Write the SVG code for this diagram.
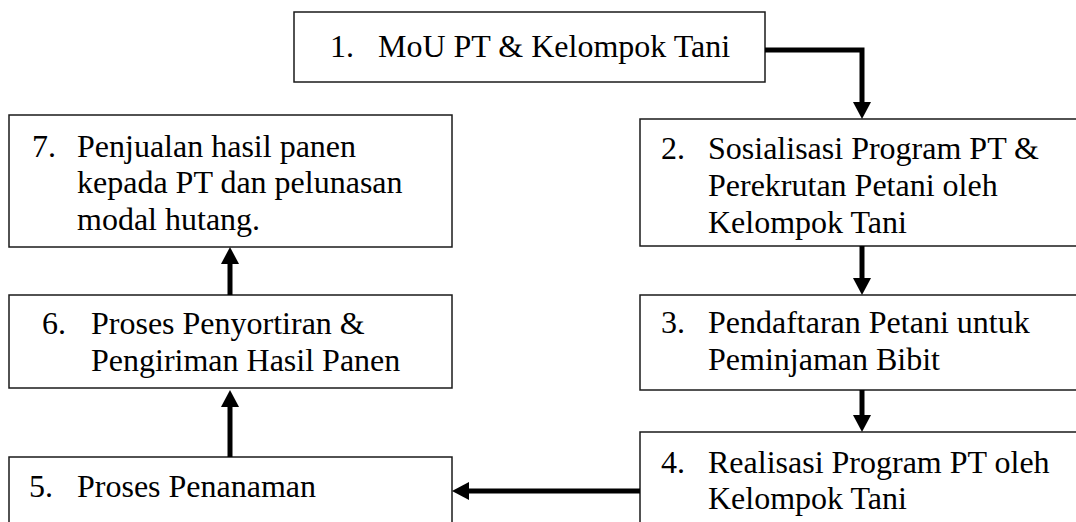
<svg xmlns="http://www.w3.org/2000/svg" width="1076" height="522" viewBox="0 0 1076 522">
  <style>
    .box { fill: #ffffff; stroke: #1a1a1a; stroke-width: 1.5; }
    .lbl { font-family: "Liberation Serif", "Times New Roman", serif; font-size: 32px; fill: #000000; }
    .conn { fill: none; stroke: #000000; stroke-width: 5; stroke-linejoin: miter; }
  </style>
  <defs>
    <marker id="head" markerUnits="userSpaceOnUse" markerWidth="18" markerHeight="18" refX="0" refY="9" orient="auto">
      <path d="M0,0 L17,9 L0,18 Z" fill="#000000"/>
    </marker>
  </defs>

  <rect width="1076" height="522" fill="#ffffff"/>

  <!-- Step 1 -->
  <g id="node1">
    <rect class="box" x="294" y="12" width="471" height="70"/>
    <text class="lbl" x="330" y="57">1.</text>
    <text class="lbl" x="378" y="57">MoU PT &amp; Kelompok Tani</text>
  </g>

  <!-- Step 2 -->
  <g id="node2">
    <rect class="box" x="640" y="119" width="450" height="127"/>
    <text class="lbl" x="661" y="159">2.</text>
    <text class="lbl" x="708" y="159">Sosialisasi Program PT &amp;</text>
    <text class="lbl" x="708" y="196">Perekrutan Petani oleh</text>
    <text class="lbl" x="708" y="233">Kelompok Tani</text>
  </g>

  <!-- Step 3 -->
  <g id="node3">
    <rect class="box" x="640" y="295" width="450" height="95"/>
    <text class="lbl" x="661" y="333">3.</text>
    <text class="lbl" x="708" y="333">Pendaftaran Petani untuk</text>
    <text class="lbl" x="708" y="370">Peminjaman Bibit</text>
  </g>

  <!-- Step 4 -->
  <g id="node4">
    <rect class="box" x="640" y="432" width="450" height="100"/>
    <text class="lbl" x="661" y="473">4.</text>
    <text class="lbl" x="708" y="473">Realisasi Program PT oleh</text>
    <text class="lbl" x="708" y="509">Kelompok Tani</text>
  </g>

  <!-- Step 5 -->
  <g id="node5">
    <rect class="box" x="9" y="457" width="443" height="75"/>
    <text class="lbl" x="29" y="497">5.</text>
    <text class="lbl" x="77" y="497">Proses Penanaman</text>
  </g>

  <!-- Step 6 -->
  <g id="node6">
    <rect class="box" x="9" y="295" width="443" height="93"/>
    <text class="lbl" x="42" y="334">6.</text>
    <text class="lbl" x="91" y="334">Proses Penyortiran &amp;</text>
    <text class="lbl" x="91" y="371">Pengiriman Hasil Panen</text>
  </g>

  <!-- Step 7 -->
  <g id="node7">
    <rect class="box" x="9" y="115" width="443" height="132"/>
    <text class="lbl" x="32" y="157">7.</text>
    <text class="lbl" x="77" y="157">Penjualan hasil panen</text>
    <text class="lbl" x="77" y="193">kepada PT dan pelunasan</text>
    <text class="lbl" x="77" y="230">modal hutang.</text>
  </g>

  <!-- Flow connectors -->
  <g id="connectors">
    <path class="conn" d="M765,50 H862 V102" marker-end="url(#head)"/>
    <path class="conn" d="M862,246 V278" marker-end="url(#head)"/>
    <path class="conn" d="M862,390 V415" marker-end="url(#head)"/>
    <path class="conn" d="M640,491 H469" marker-end="url(#head)"/>
    <path class="conn" d="M230,457 V407" marker-end="url(#head)"/>
    <path class="conn" d="M230,295 V264" marker-end="url(#head)"/>
  </g>
</svg>
